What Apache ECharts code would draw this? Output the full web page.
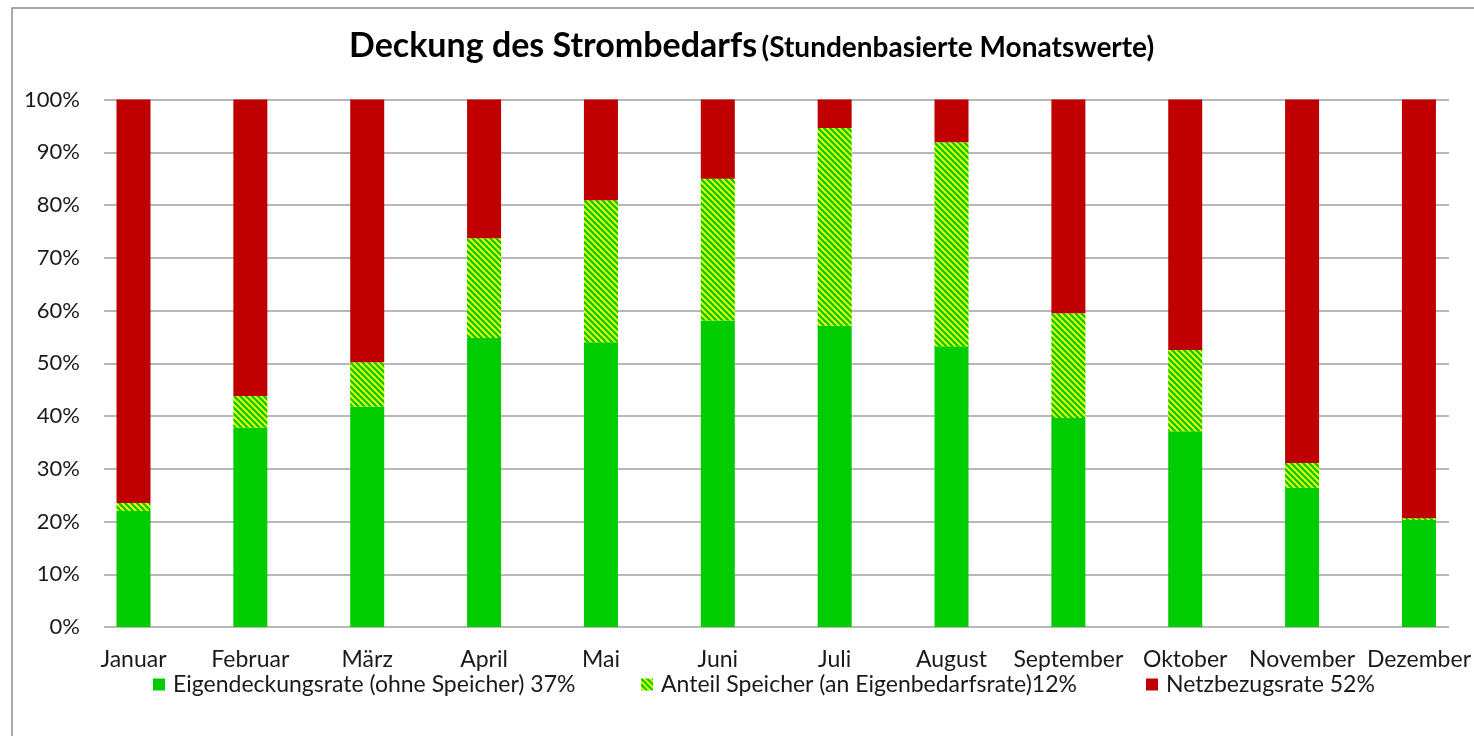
<!DOCTYPE html>
<html>
<head>
<meta charset="utf-8">
<title>Deckung des Strombedarfs</title>
<script src="https://cdn.jsdelivr.net/npm/echarts@6/dist/echarts.min.js"></script>
<style>
  html, body { margin: 0; padding: 0; background: #fff; }
  #chart { width: 1474px; height: 736px; }
</style>
</head>
<body>
<div id="chart"></div>
<script>
// Monate
const months = ['Januar', 'Februar', 'März', 'April', 'Mai', 'Juni', 'Juli',
  'August', 'September', 'Oktober', 'November', 'Dezember']

// Anteile in %
const eigendeckung = [22.0, 37.8, 41.8, 54.8, 54.0, 58.1, 57.1, 53.2, 39.6, 37.1, 26.4, 20.3]
const speicher = [1.5, 6.0, 8.4, 18.9, 26.9, 26.9, 37.5, 38.7, 19.9, 15.4, 4.7, 0.3]
const netzbezug = [76.5, 56.2, 49.8, 26.3, 19.1, 15.0, 5.4, 8.1, 40.5, 47.5, 68.9, 79.4]

const yTicks = [0, 10, 20, 30, 40, 50, 60, 70, 80, 90, 100]

const seriesNames = [
  'Eigendeckungsrate (ohne Speicher) 37%',
  'Anteil Speicher (an Eigenbedarfsrate)12%',
  'Netzbezugsrate 52%'
]

const FONT = 'Lato, "Liberation Sans", sans-serif'
const GREEN = '#00cc00'
const RED = '#c00000'

// schraffur gelb/gruen
function makeHatch() {
  const c = document.createElement('canvas')
  c.width = 6
  c.height = 6
  const ctx = c.getContext('2d')
  ctx.fillStyle = '#ffff00'
  ctx.fillRect(0, 0, 6, 6)
  ctx.strokeStyle = GREEN
  ctx.lineWidth = 2.4
  for (const k of [-6, 0, 6]) {
    ctx.beginPath()
    ctx.moveTo(k - 1, -1)
    ctx.lineTo(k + 7, 7)
    ctx.stroke()
  }
  return c
}
const hatch = { image: makeHatch(), repeat: 'repeat' }

const chart = echarts.init(document.getElementById('chart'))

const legendBase = {
  top: 668,
  itemWidth: 12,
  itemHeight: 12,
  icon: 'rect',
  textStyle: { fontFamily: FONT, fontSize: 23, color: '#1a1a1a', padding: [0, 0, 0, 3] }
}

chart.setOption({
  animation: false,
  textStyle: { fontFamily: FONT },
  graphic: [{
    type: 'rect',
    shape: { x: 12, y: 8, width: 1500, height: 800 },
    style: { fill: 'none', stroke: '#8c8c8c', lineWidth: 1.5 },
    silent: true
  }],
  title: {
    left: 344,
    top: 24,
    text: '{a|Deckung des Strombedarfs} {b|(Stundenbasierte Monatswerte)}',
    textStyle: {
      rich: {
        a: { fontFamily: FONT, fontWeight: 'bold', fontSize: 34, color: '#000', verticalAlign: 'bottom' },
        b: { fontFamily: FONT, fontWeight: 'bold', fontSize: 28, color: '#000', verticalAlign: 'bottom', padding: [0, 0, 1, 0] }
      }
    }
  },
  legend: [
    Object.assign({ left: 148, data: [seriesNames[0]] }, legendBase),
    Object.assign({ left: 636, data: [seriesNames[1]] }, legendBase),
    Object.assign({ left: 1141, data: [seriesNames[2]] }, legendBase)
  ],
  grid: [
    { left: 133.5, right: 54, top: 99.5, bottom: 109 },
    { left: 104, right: 25, top: 99.5, bottom: 109 }
  ],
  xAxis: [{
    gridIndex: 0,
    type: 'category',
    data: months,
    boundaryGap: false,
    axisLine: { show: false },
    axisTick: { show: false },
    axisLabel: {
      fontFamily: FONT, fontSize: 23, color: '#1a1a1a', margin: 21,
      interval: 0, alignMinLabel: 'center', alignMaxLabel: 'center', hideOverlap: false
    }
  }, {
    gridIndex: 1,
    type: 'value',
    min: 0,
    max: 1,
    show: false
  }],
  yAxis: [{
    gridIndex: 0,
    type: 'value',
    min: 0,
    max: 100,
    show: false
  }, {
    gridIndex: 1,
    type: 'value',
    min: yTicks[0],
    max: yTicks[yTicks.length - 1],
    interval: 10,
    axisLine: { show: false },
    axisTick: { show: false },
    splitLine: { lineStyle: { color: '#a0a0a0', width: 1.5 } },
    axisLabel: { fontFamily: FONT, fontSize: 22, color: '#1a1a1a', margin: 24, formatter: '{value}%' }
  }],
  series: [{
    name: seriesNames[0],
    type: 'bar',
    stack: 'total',
    barWidth: 34,
    clip: false,
    itemStyle: { color: GREEN },
    data: eigendeckung
  }, {
    name: seriesNames[1],
    type: 'bar',
    stack: 'total',
    barWidth: 34,
    clip: false,
    itemStyle: { color: hatch },
    data: speicher
  }, {
    name: seriesNames[2],
    type: 'bar',
    stack: 'total',
    barWidth: 34,
    clip: false,
    itemStyle: { color: RED },
    data: netzbezug
  }]
})
</script>
</body>
</html>
